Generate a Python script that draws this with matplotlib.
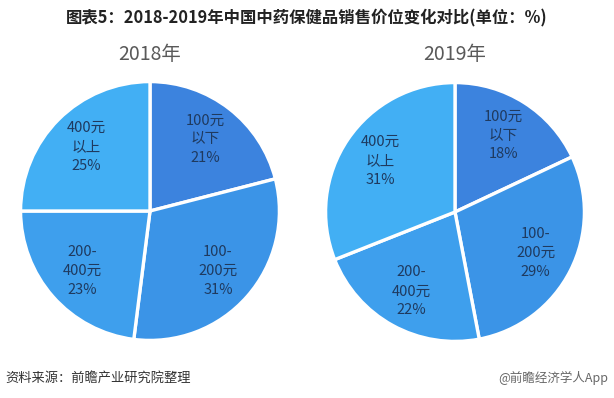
import matplotlib
matplotlib.use("Agg")
import matplotlib.pyplot as plt
import numpy as np

plt.rcParams['font.family'] = ['Noto Sans CJK SC', 'DejaVu Sans']

title = "图表5：2018-2019年中国中药保健品销售价位变化对比(单位：%)"
categories = ["100元\n以下", "100-\n200元", "200-\n400元", "400元\n以上"]
years = ["2018年", "2019年"]
values_2018 = [21, 31, 23, 25]
values_2019 = [18, 29, 22, 31]
colors = ["#3c83de", "#3b94e7", "#3e9fed", "#42aff4"]
source = "资料来源：前瞻产业研究院整理"
credit = "@前瞻经济学人App"

W, H = 614, 398
fig = plt.figure(figsize=(W / 100, H / 100), dpi=100)
fig.patch.set_facecolor("white")

def add_pie(cx, cy, r, vals, year):
    ax = fig.add_axes([(cx - r) / W, (H - cy - r) / H, 2 * r / W, 2 * r / H])
    labels = [f"{c}\n{v}%" for c, v in zip(categories, vals)]
    wedges, texts = ax.pie(vals, colors=colors, startangle=90, counterclock=False,
                           labels=labels, labeldistance=0.70,
                           wedgeprops=dict(edgecolor="white", linewidth=2.4),
                           textprops=dict(color="#1f3a5f", fontsize=10.5,
                                          ha="center", va="center", linespacing=1.45))
    for t in texts:
        t.set_ha("center")
        t.set_va("center")
    ax.set_xlim(-1.02, 1.02)
    ax.set_ylim(-1.02, 1.02)
    ax.set_aspect("equal")
    ax.axis("off")
    fig.text(cx / W, 1 - 55 / H, year, ha="center", va="center",
             fontsize=14, color="#595959")

add_pie(150, 211, 132, values_2018, years[0])
add_pie(455, 212, 132, values_2019, years[1])

fig.text(0.5, 1 - 18 / H, title, ha="center", va="center",
         fontsize=11.8, fontweight="bold", color="#222222")
fig.text(5 / W, 1 - 378 / H, source, ha="left", va="center",
         fontsize=9.5, color="#333333")
fig.text(608 / W, 1 - 378 / H, credit, ha="right", va="center",
         fontsize=9, color="#666666")

fig.savefig("out.png", dpi=100, facecolor="white")
